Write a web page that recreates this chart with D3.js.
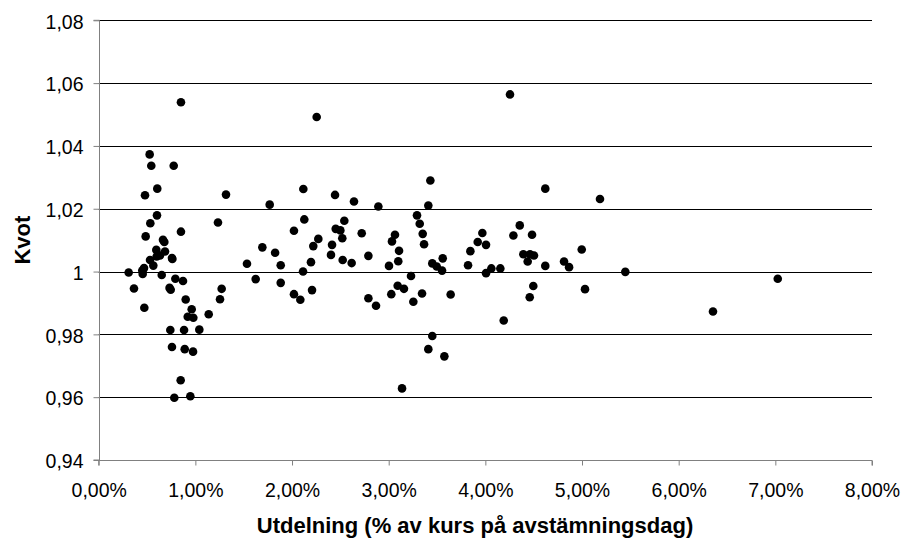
<!DOCTYPE html>
<html><head><meta charset="utf-8">
<script src="https://cdn.jsdelivr.net/npm/d3@7"></script>
<style>body{margin:0;background:#fff}svg{display:block}</style>
</head><body>
<script>
// Utdelning (% of price), as percent values
const xValues = [
 0.310,0.365,0.451,0.455,0.469,0.472,0.479,0.486,0.527,0.531,0.534,0.544,0.565,0.596,0.600,0.603,0.606,0.634,0.652,0.665,0.679,0.686,
 0.733,0.745,0.741,0.758,0.758,0.762,0.776,0.782,0.793,0.848,0.851,0.851,0.872,0.883,0.890,0.900,0.921,0.948,0.962,0.976,0.979,
 1.041,1.138,1.234,1.255,1.272,1.317,
 1.534,1.624,1.693,1.769,1.825,1.883,1.883,2.020,2.020,2.086,2.114,2.117,2.127,2.196,2.207,2.220,2.255,2.272,
 2.403,2.414,2.445,2.452,2.500,2.520,2.524,2.541,2.617,2.641,2.721,2.790,2.790,2.869,2.893,
 3.003,3.027,3.034,3.065,3.093,3.099,3.107,3.138,3.158,3.231,3.255,3.293,3.321,3.345,3.352,3.366,3.410,3.410,3.431,3.451,3.451,3.497,3.552,3.559,3.576,3.641,
 3.821,3.845,3.921,3.969,4.007,4.007,4.062,4.155,4.190,4.255,4.290,4.356,4.393,4.438,4.462,4.459,4.483,4.496,4.503,4.620,4.620,
 4.814,4.866,4.997,5.031,5.186,5.448,6.355,7.025
];
// Kvot
const yValues = [
 0.9997,0.9946,1.0003,0.9992,1.0011,0.9885,1.0243,1.0112,1.0373,1.0037,1.0154,1.0337,1.0019,1.0069,1.0048,1.0179,1.0264,1.0051,0.9989,1.0101,1.0094,1.0064,
 0.9948,0.9942,0.9814,0.9760,1.0043,1.0040,1.0337,0.9598,0.9977,0.9654,1.0539,1.0127,0.9970,0.9814,0.9753,0.9911,0.9856,0.9603,0.9880,0.9745,0.9853,
 0.9815,0.9864,1.0156,0.9912,0.9945,1.0245,
 1.0025,0.9976,1.0077,1.0213,1.0060,1.0020,0.9964,1.0130,0.9928,0.9910,1.0000,1.0263,1.0166,1.0030,0.9941,1.0081,1.0492,1.0104,
 1.0053,1.0085,1.0244,1.0136,1.0131,1.0106,1.0037,1.0162,1.0027,1.0223,1.0122,1.0050,0.9915,0.9891,1.0207,
 1.0018,0.9928,1.0096,1.0117,0.9955,1.0033,1.0066,0.9628,0.9945,0.9986,0.9904,1.0179,1.0152,0.9930,1.0120,1.0087,1.0210,0.9753,1.0290,1.0026,0.9795,1.0016,1.0003,1.0042,0.9730,0.9927,
 1.0020,1.0065,1.0094,1.0123,1.0085,0.9995,1.0010,1.0010,0.9844,1.0564,1.0115,1.0147,1.0055,1.0032,1.0055,0.9918,1.0117,0.9954,1.0051,1.0264,1.0018,
 1.0032,1.0014,1.0070,0.9944,1.0231,0.9999,0.9873,0.9977
];
const xTicks = [0,1,2,3,4,5,6,7,8];
const yTicks = [0.94,0.96,0.98,1.00,1.02,1.04,1.06,1.08];
const xTitle = "Utdelning (% av kurs på avstämningsdag)";
const yTitle = "Kvot";

const W = 902, H = 539;
const L = 98.7, R = 872, T = 20.3, B = 460;
const svg = d3.select("body").append("svg").attr("width", W).attr("height", H);
const x = d3.scaleLinear().domain([0, 8]).range([L, R]);
const y = d3.scaleLinear().domain([0.94, 1.08]).range([B, T]);
const font = "'Liberation Sans', Arial, sans-serif";

// gridlines
svg.append("g").selectAll("line").data(yTicks.filter(v => v > 0.94)).join("line")
  .attr("x1", L).attr("x2", R)
  .attr("y1", d => Math.round(y(d)) + 0.5).attr("y2", d => Math.round(y(d)) + 0.5)
  .attr("stroke", "#000").attr("stroke-width", 1);

// y axis
const fmtY = d => (Math.abs(d - 1) < 1e-9 ? "1" : d3.format(".2f")(d).replace(".", ","));
const yAxis = svg.append("g").attr("transform", `translate(${Math.round(L)+0.5},0)`)
  .call(d3.axisLeft(y).tickValues(yTicks).tickFormat(fmtY).tickSize(6).tickPadding(10));
yAxis.selectAll("path,line").attr("stroke", "#808080").attr("stroke-width", 1);
yAxis.select(".domain").attr("d", `M-6,${y(1.08)}H0V${y(0.94)}H-6`);
yAxis.selectAll("text").attr("font-family", font).attr("font-size", 19.5).attr("fill", "#000").attr("dy", "0.4em");

// x axis
const fmtX = d => d3.format(".2f")(d).replace(".", ",") + "%";
const xAxis = svg.append("g").attr("transform", `translate(0,${Math.round(B)+0.5})`)
  .call(d3.axisBottom(x).tickValues(xTicks).tickFormat(fmtX).tickSize(5).tickPadding(18));
xAxis.selectAll("path,line").attr("stroke", "#808080").attr("stroke-width", 1);
xAxis.select(".domain").attr("d", `M${x(0)},5V0H${x(8)}V5`);
xAxis.selectAll("text").attr("font-family", font).attr("font-size", 19.5).attr("fill", "#000");

// points
svg.append("g").selectAll("circle").data(xValues.map((v, i) => [v, yValues[i]])).join("circle")
  .attr("cx", d => x(d[0])).attr("cy", d => y(d[1])).attr("r", 4.3).attr("fill", "#000");

// titles
svg.append("text").attr("x", 475).attr("y", 533).attr("text-anchor", "middle")
  .attr("font-family", font).attr("font-weight", "bold").attr("font-size", 22).text(xTitle);
svg.append("text").attr("transform", `translate(30,${(T + B) / 2}) rotate(-90)`).attr("text-anchor", "middle")
  .attr("font-family", font).attr("font-weight", "bold").attr("font-size", 22).text(yTitle);
</script>
</body></html>
